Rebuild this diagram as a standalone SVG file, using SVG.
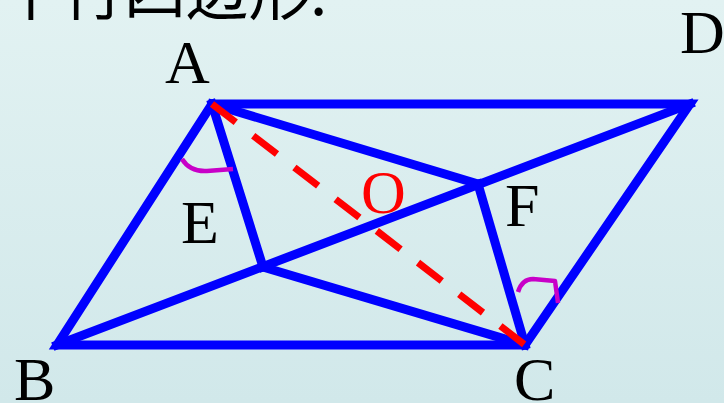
<svg xmlns="http://www.w3.org/2000/svg" width="724" height="403" viewBox="0 0 724 403">
<defs>
<linearGradient id="bg" x1="0" y1="0" x2="0" y2="1">
<stop offset="0" stop-color="#e2f2f2"/>
<stop offset="1" stop-color="#d1e8ea"/>
</linearGradient>
<style>
.e{stroke:#0000ff;stroke-width:9;fill:none;stroke-linecap:square;stroke-linejoin:miter}
.d{stroke:#ff0000;stroke-width:7;fill:none;stroke-dasharray:30 22}
.m{stroke:#c800c8;stroke-width:4.5;fill:none;stroke-linejoin:round}
.t{font-family:"Liberation Serif","Times New Roman",serif;font-size:62px;fill:#000}
.cn{font-family:"Noto Sans CJK SC",sans-serif;font-size:62px;fill:#000}
</style>
</defs>
<rect width="724" height="403" fill="url(#bg)"/>
<text class="cn" x="0" y="15">平行四边形.</text>
<g id="connectors">
<polygon class="e" points="212,104 690,104 525,345 57,345"/>
<line class="e" x1="57" y1="345" x2="690" y2="104"/>
<line class="e" x1="212" y1="104" x2="263" y2="267"/>
<line class="e" x1="212" y1="104" x2="478" y2="184"/>
<line class="e" x1="525" y1="345" x2="263" y2="267"/>
<line class="e" x1="525" y1="345" x2="478" y2="184"/>
<line class="d" x1="212" y1="104" x2="525" y2="345"/>
<path class="m" d="M182,159 Q190,172 207,171 L233,169"/>
<path class="m" d="M518,292 Q522,279 533,279 L555,281 L558,303"/>
</g>
<g id="A"><text class="t" x="165" y="83">A</text></g>
<g id="D"><text class="t" x="680" y="53">D</text></g>
<g id="B"><text class="t" x="14" y="400">B</text></g>
<g id="C"><text class="t" x="514" y="400">C</text></g>
<g id="E"><text class="t" x="181" y="243">E</text></g>
<g id="F"><text class="t" x="505" y="226">F</text></g>
<g id="O"><text class="t" x="361" y="213" style="fill:#ff0000">O</text></g>
</svg>
